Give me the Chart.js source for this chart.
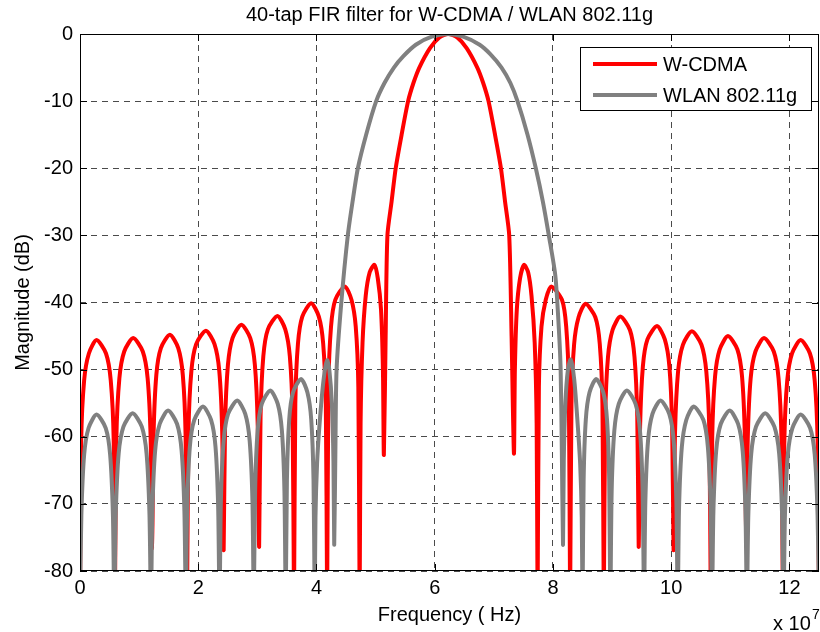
<!DOCTYPE html>
<html lang="en">
<head>
    <meta charset="UTF-8">
    <title>40-tap FIR filter for W-CDMA / WLAN 802.11g</title>
    <script src="https://cdnjs.cloudflare.com/ajax/libs/Chart.js/4.4.0/chart.umd.min.js"></script>
</head>
<style>
    body { margin: 0; background: #fff; }
    #chart-container { width: 820px; height: 632px; }
</style>
<body>
    <div id="chart-container">
        <canvas id="chart" width="820" height="632"></canvas>
    </div>
</body>
<script type="text/javascript">
    // frequency in units of 1e7 Hz, magnitude in dB
    const wcdmaFreq = [
        0.00, 0.02, 0.07, 0.15, 0.28, 0.44, 0.52, 0.57,
        0.59, 0.615, 0.666, 0.748, 0.90, 1.062, 1.144, 1.195,
        1.22, 1.244, 1.291, 1.368, 1.52, 1.662, 1.739, 1.786,
        1.81, 1.835, 1.884, 1.965, 2.13, 2.275, 2.356, 2.405,
        2.43, 2.454, 2.502, 2.58, 2.73, 2.88, 2.958, 3.006,
        3.03, 3.054, 3.101, 3.178, 3.34, 3.472, 3.549, 3.596,
        3.62, 3.642, 3.687, 3.76, 3.91, 4.04, 4.113, 4.158,
        4.18, 4.202, 4.246, 4.318, 4.48, 4.592, 4.664, 4.708,
        4.73, 4.746, 4.779, 4.833, 4.90, 4.98, 5.037, 5.091, 5.124,
        5.14, 5.17, 5.20, 5.27, 5.34, 5.44, 5.55, 5.64, 5.74, 5.92, 6.08,
        6.23, 6.38, 6.54, 6.72, 6.82, 6.91, 7.02, 7.12, 7.19, 7.26, 7.30,
        7.34, 7.356, 7.389, 7.443, 7.51, 7.58, 7.637, 7.691, 7.724,
        7.74, 7.762, 7.806, 7.878, 7.97, 8.152, 8.224, 8.268,
        8.29, 8.313, 8.358, 8.433, 8.55, 8.717, 8.792, 8.837,
        8.86, 8.884, 8.931, 9.008, 9.14, 9.302, 9.379, 9.426,
        9.45, 9.474, 9.521, 9.598, 9.76, 9.892, 9.969, 10.016,
        10.04, 10.065, 10.116, 10.198, 10.35, 10.512, 10.594, 10.645,
        10.67, 10.694, 10.742, 10.82, 10.96, 11.12, 11.198, 11.246,
        11.27, 11.295, 11.344, 11.425, 11.57, 11.735, 11.816, 11.865,
        11.89, 11.914, 11.963, 12.043, 12.19, 12.347, 12.427, 12.476,
        12.50
    ];
    const wcdmaMag = [
        -85, -60.6, -51.6, -47.6, -45.6, -47.6, -51.6, -60.6,
        -85, -60.3, -51.3, -47.3, -45.3, -47.3, -51.3, -60.3,
        -76.6, -59.8, -50.8, -46.8, -44.8, -46.8, -50.8, -59.8,
        -85, -59.2, -50.2, -46.2, -44.2, -46.2, -50.2, -59.2,
        -76.9, -58.3, -49.3, -45.3, -43.3, -45.3, -49.3, -58.3,
        -76.4, -57.0, -48.0, -44.0, -42.0, -44.0, -48.0, -57.0,
        -85, -55.1, -46.1, -42.1, -40.1, -42.1, -46.1, -55.1,
        -85, -52.6, -43.6, -39.6, -37.6, -39.6, -43.6, -52.6,
        -85, -58, -46, -39, -35.5, -34.4, -36.4, -41, -50,
        -62.7, -45, -30, -25, -20, -15, -10, -7.3, -5, -2.1, -0.5,
        0, -0.5, -2.1, -5, -7.3, -10, -15, -20, -25, -30, -45,
        -62.5, -50, -41, -36.4, -34.4, -35.5, -39, -46, -58,
        -85, -52.6, -43.6, -39.6, -37.6, -39.6, -43.6, -52.6,
        -85, -55.2, -46.2, -42.2, -40.2, -42.2, -46.2, -55.2,
        -85, -57.1, -48.1, -44.1, -42.1, -44.1, -48.1, -57.1,
        -76.4, -58.5, -49.5, -45.5, -43.5, -45.5, -49.5, -58.5,
        -76.9, -59.3, -50.3, -46.3, -44.3, -46.3, -50.3, -59.3,
        -85, -60, -51, -47, -45, -47, -51, -60,
        -76.6, -60.3, -51.3, -47.3, -45.3, -47.3, -51.3, -60.3,
        -85, -60.6, -51.6, -47.6, -45.6, -47.6, -51.6, -60.6,
        -85
    ];
    const wlanFreq = [
        0.00, 0.023, 0.07, 0.145, 0.28, 0.435, 0.51, 0.557,
        0.58, 0.605, 0.654, 0.735, 0.89, 1.045, 1.126, 1.175,
        1.20, 1.224, 1.271, 1.348, 1.49, 1.642, 1.719, 1.766,
        1.79, 1.813, 1.858, 1.933, 2.08, 2.217, 2.292, 2.337,
        2.36, 2.383, 2.43, 2.505, 2.66, 2.795, 2.87, 2.917,
        2.94, 2.962, 3.005, 3.075, 3.22, 3.345, 3.415, 3.458,
        3.48, 3.50, 3.539, 3.603, 3.74, 3.847, 3.911, 3.95,
        3.97, 3.983, 4.01, 4.053, 4.12, 4.18, 4.217, 4.26, 4.287,
        4.30, 4.32, 4.34, 4.42, 4.53, 4.61, 4.70, 4.84, 5.01, 5.15, 5.31, 5.47, 5.68, 5.95,
        6.22, 6.48, 6.76, 6.94, 7.13, 7.28, 7.40, 7.57, 7.71, 7.83, 7.93, 8.04, 8.10, 8.13, 8.15,
        8.17, 8.183, 8.21, 8.253, 8.30, 8.36, 8.417, 8.46, 8.487,
        8.50, 8.519, 8.556, 8.618, 8.73, 8.852, 8.914, 8.951,
        8.97, 8.993, 9.038, 9.113, 9.25, 9.397, 9.472, 9.517,
        9.54, 9.563, 9.608, 9.683, 9.82, 9.967, 10.042, 10.087,
        10.11, 10.133, 10.18, 10.255, 10.38, 10.545, 10.62, 10.667,
        10.69, 10.714, 10.761, 10.838, 10.99, 11.132, 11.209, 11.256,
        11.28, 11.305, 11.354, 11.435, 11.59, 11.745, 11.826, 11.875,
        11.90, 11.924, 11.972, 12.05, 12.19, 12.35, 12.428, 12.476,
        12.50
    ];
    const wlanMag = [
        -85, -71.7, -62.7, -58.7, -56.7, -58.7, -62.7, -71.7,
        -85, -71.5, -62.5, -58.5, -56.5, -58.5, -62.5, -71.5,
        -85, -71.1, -62.1, -58.1, -56.1, -58.1, -62.1, -71.1,
        -85, -70.5, -61.5, -57.5, -55.5, -57.5, -61.5, -70.5,
        -85, -69.6, -60.6, -56.6, -54.6, -56.6, -60.6, -69.6,
        -85, -68.1, -59.1, -55.1, -53.1, -55.1, -59.1, -68.1,
        -85, -66.4, -57.4, -53.4, -51.4, -53.4, -57.4, -66.4,
        -85, -72, -64, -58, -51.5, -48.6, -50, -55, -63.6,
        -76.1, -62, -50, -40, -30, -25, -20, -15, -10, -7.3, -5, -3.3, -1.6, -0.4,
        0, -0.4, -1.6, -3.0, -5, -7.3, -10, -15, -20, -25, -30, -36, -44, -50, -62,
        -76.1, -63.6, -55, -50, -48.5, -51.5, -58, -64, -72,
        -85, -66.4, -57.4, -53.4, -51.4, -53.4, -57.4, -66.4,
        -85, -68.1, -59.1, -55.1, -53.1, -55.1, -59.1, -68.1,
        -85, -69.6, -60.6, -56.6, -54.6, -56.6, -60.6, -69.6,
        -85, -70.5, -61.5, -57.5, -55.5, -57.5, -61.5, -70.5,
        -85, -71.1, -62.1, -58.1, -56.1, -58.1, -62.1, -71.1,
        -85, -71.5, -62.5, -58.5, -56.5, -58.5, -62.5, -71.5,
        -85, -71.7, -62.7, -58.7, -56.7, -58.7, -62.7, -71.7,
        -85
    ];
    const xTicks = [0, 2, 4, 6, 8, 10, 12];
    const yTicks = [-80, -70, -60, -50, -40, -30, -20, -10, 0];
    const seriesNames = ['W-CDMA', 'WLAN 802.11g'];
    const seriesColors = ['#ff0000', '#808080'];
    const chartTitle = '40-tap FIR filter for W-CDMA / WLAN 802.11g';

    const FONT = '"Liberation Sans", Arial, Helvetica, sans-serif';

    function toPoints(xs, ys) {
        return xs.map((x, i) => ({x: x, y: ys[i]}));
    }

    const framePlugin = {
        id: 'matlabFrame',
        afterDatasetsDraw: (chart) => {
            const {ctx, chartArea: a, scales} = chart;
            ctx.save();
            ctx.strokeStyle = '#000';
            ctx.lineWidth = 1;
            ctx.strokeRect(a.left + 0.5, a.top + 0.5, a.right - a.left - 1, a.bottom - a.top - 1);
            // inward tick marks
            ctx.beginPath();
            xTicks.forEach(v => {
                const px = Math.round(scales.x.getPixelForValue(v)) + 0.5;
                ctx.moveTo(px, a.bottom); ctx.lineTo(px, a.bottom - 7);
                ctx.moveTo(px, a.top); ctx.lineTo(px, a.top + 7);
            });
            yTicks.forEach(v => {
                const py = Math.round(scales.y.getPixelForValue(v)) + 0.5;
                ctx.moveTo(a.left, py); ctx.lineTo(a.left + 7, py);
                ctx.moveTo(a.right, py); ctx.lineTo(a.right - 7, py);
            });
            ctx.stroke();

            // title, centred over the axes like MATLAB does
            ctx.fillStyle = '#000';
            ctx.font = '20px ' + FONT;
            ctx.textAlign = 'center';
            ctx.textBaseline = 'middle';
            ctx.fillText(chartTitle, (a.left + a.right) / 2, 15);

            // legend box
            const lx = 580, ly = 47, lw = 231, lh = 63;
            ctx.fillStyle = '#fff';
            ctx.fillRect(lx, ly, lw, lh);
            ctx.strokeStyle = '#000';
            ctx.strokeRect(lx + 0.5, ly + 0.5, lw, lh);
            ctx.textAlign = 'left';
            seriesNames.forEach((name, i) => {
                const yy = ly + 17 + i * 31;
                ctx.strokeStyle = seriesColors[i];
                ctx.lineWidth = 4;
                ctx.beginPath();
                ctx.moveTo(lx + 13, yy); ctx.lineTo(lx + 77, yy);
                ctx.stroke();
                ctx.fillStyle = '#000';
                ctx.fillText(name, lx + 83, yy + 1);
            });

            // exponent label
            ctx.textBaseline = 'alphabetic';
            ctx.font = '20px ' + FONT;
            ctx.fillText('x 10', 773, 630);
            ctx.font = '14px ' + FONT;
            ctx.fillText('7', 812, 619);
            ctx.restore();
        }
    };

    const config = {
        type: 'line',
        data: {
            datasets: [
                {
                    label: seriesNames[0],
                    data: toPoints(wcdmaFreq, wcdmaMag),
                    borderColor: seriesColors[0],
                    borderWidth: 4,
                    order: 2
                },
                {
                    label: seriesNames[1],
                    data: toPoints(wlanFreq, wlanMag),
                    borderColor: seriesColors[1],
                    borderWidth: 4,
                    order: 1
                }
            ]
        },
        options: {
            responsive: false,
            animation: false,
            events: [],
            layout: { padding: { left: 0, right: 1, top: 34, bottom: 0 } },
            elements: {
                point: { radius: 0 },
                line: { tension: 0.25, borderJoinStyle: 'round', borderCapStyle: 'round' }
            },
            scales: {
                x: {
                    type: 'linear',
                    min: 0,
                    max: 12.5,
                    afterBuildTicks: (scale) => { scale.ticks = xTicks.map(v => ({value: v})); },
                    afterFit: (scale) => { scale.height = 61; },
                    grid: { color: '#4a4a4a', lineWidth: 1, drawTicks: false },
                    border: { display: false, dash: [6, 5] },
                    ticks: { color: '#000', padding: 5, maxRotation: 0, font: { family: FONT, size: 20 } },
                    title: {
                        display: true,
                        text: 'Frequency ( Hz)',
                        color: '#000',
                        font: { family: FONT, size: 20 },
                        padding: { top: 0, bottom: 5 }
                    }
                },
                y: {
                    min: -80,
                    max: 0,
                    afterBuildTicks: (scale) => { scale.ticks = yTicks.map(v => ({value: v})); },
                    afterFit: (scale) => { scale.width = 80; },
                    grid: { color: '#4a4a4a', lineWidth: 1, drawTicks: false },
                    border: { display: false, dash: [6, 5] },
                    ticks: { color: '#000', padding: 7, font: { family: FONT, size: 20 } },
                    title: {
                        display: true,
                        text: 'Magnitude (dB)',
                        color: '#000',
                        font: { family: FONT, size: 20 },
                        padding: { top: 11, bottom: 0 }
                    }
                }
            },
            plugins: {
                legend: { display: false },
                tooltip: { enabled: false },
                title: { display: false }
            }
        },
        plugins: [framePlugin]
    };

    const canvas = document.getElementById('chart');
    const chart = new Chart(canvas, config);
</script>
</html>
